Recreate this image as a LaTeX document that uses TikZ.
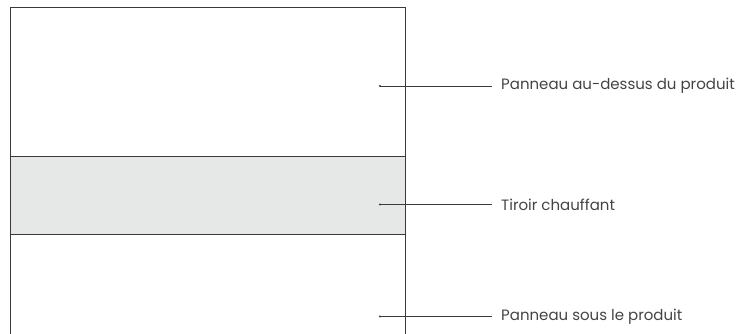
\documentclass[tikz,border=0pt]{standalone}
\usepackage{fontspec}
\setmainfont{Poppins}
\definecolor{linegray}{HTML}{3A3A3A}
\definecolor{drawerfill}{HTML}{E6E8E7}
\definecolor{textgray}{HTML}{444444}

\begin{document}
\begin{tikzpicture}[x=1pt,y=-1pt,
  panel/.style={draw=linegray,line width=0.8pt},
  label/.style={anchor=west,inner sep=0pt,text=textgray,font=\fontsize{15}{17}\selectfont},
  leader/.style={draw=linegray,line width=0.7pt}]

\useasboundingbox (0,0) rectangle (745,334);

\def\toppanel{(10,7) rectangle (405,156)}
\def\drawer{(10,156) rectangle (405,234)}

\fill [drawerfill] \drawer;
\draw [panel] \toppanel;
\draw [panel] \drawer;
\draw [panel] (10,334) -- (10,234) (405,234) -- (405,334);

\coordinate (topdot) at (380,86);
\coordinate (drawerdot) at (380,204.5);
\coordinate (bottomdot) at (380,316.5);

\node [label] (toplabel) at (501,86) {Panneau au-dessus du produit};
\node [label] (drawerlabel) at (501,204.5) {Tiroir chauffant};
\node [label] (bottomlabel) at (501,316.5) {Panneau sous le produit};

\foreach \d/\l in {topdot/toplabel,drawerdot/drawerlabel,bottomdot/bottomlabel}{
  \fill [linegray] (\d) circle (1.1pt);
  \draw [leader] (\d) -- ([xshift=-9pt]\l.west);
}

\end{tikzpicture}
\end{document}
